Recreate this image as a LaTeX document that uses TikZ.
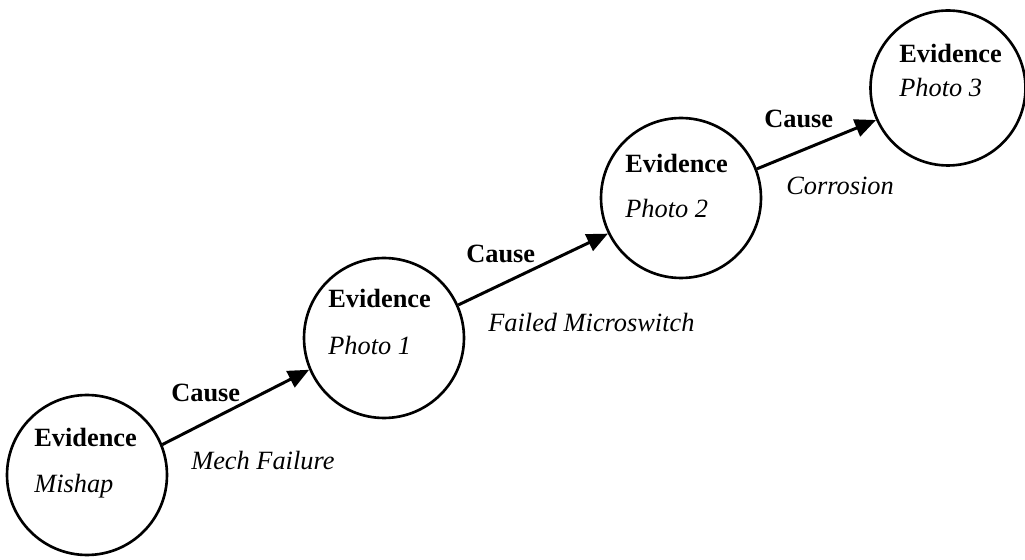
\documentclass[tikz,border=0pt]{standalone}
\usepackage{fontspec}
\setmainfont{Liberation Serif}
\usetikzlibrary{arrows.meta}

\begin{document}
\begin{tikzpicture}[x=0.02cm, y=-0.02cm, line width=1.5pt,
  evcircle/.style={draw, circle, minimum size=3.2cm, inner sep=0pt},
  txt/.style={anchor=base west, inner sep=0pt, font=\fontsize{15}{18}\selectfont},
  causearrow/.style={line width=1.7pt, -{Triangle[length=0.42cm, width=0.36cm]}}]
  \useasboundingbox (0,0) rectangle (1025,560);
  % Evidence circles
  \node[evcircle] (mishap) at (87,475) {};
  \node[evcircle] (photoA) at (384,338) {};
  \node[evcircle] (photoB) at (681,198) {};
  \node[evcircle, minimum size=3.1cm] (photoC) at (948,88) {};
  % Circle texts
  \node[txt] (evA) at (33,447) {\textbf{Evidence}};
  \node[txt] (evAlbl) at (33,493) {\textit{Mishap}};
  \node[txt] (evB) at (327,308) {\textbf{Evidence}};
  \node[txt] (evBlbl) at (327,355) {\textit{Photo 1}};
  \node[txt] (evC) at (624,173) {\textbf{Evidence}};
  \node[txt] (evClbl) at (624,218) {\textit{Photo 2}};
  \node[txt] (evD) at (898,63) {\textbf{Evidence}};
  \node[txt] (evDlbl) at (898,97) {\textit{Photo 3}};
  % Cause arrows
  \draw[causearrow] (mishap.22) -- (photoA.203);
  \draw[causearrow] (photoA.24) -- (photoB.206);
  \draw[causearrow] (photoB.21) -- (photoC.204);
  % Arrow labels
  \node[txt] (causeA) at (170,402) {\textbf{Cause}};
  \node[txt] (whyA) at (190,470) {\textit{Mech Failure}};
  \node[txt] (causeB) at (465,263) {\textbf{Cause}};
  \node[txt] (whyB) at (487,332) {\textit{Failed Microswitch}};
  \node[txt] (causeC) at (763,128) {\textbf{Cause}};
  \node[txt] (whyC) at (785,195) {\textit{Corrosion}};
\end{tikzpicture}
\end{document}
